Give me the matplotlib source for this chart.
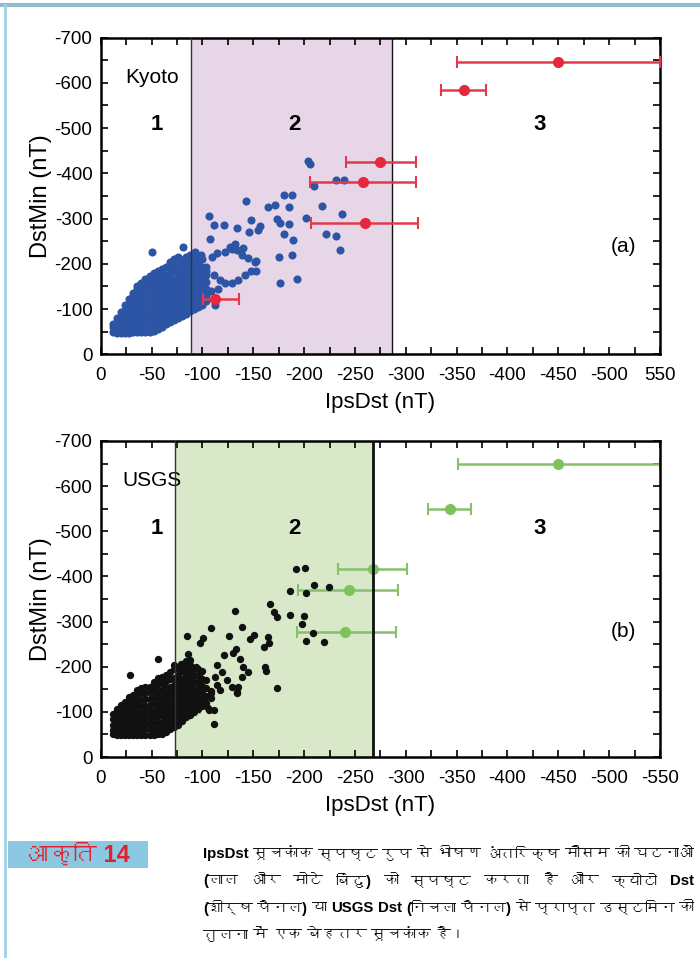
import numpy as np
import matplotlib
matplotlib.use("Agg")
import matplotlib.pyplot as plt
from matplotlib import font_manager
from matplotlib.ft2font import FT2Font
from matplotlib.lines import Line2D
from matplotlib.patches import Rectangle

# ==============
# 1. Data (nT, stored as magnitudes and plotted negative)
# ==============
# big storms with IpsDst range: panel (a) Kyoto, red
kyoto_big_ips = [450, 357, 275, 258, 260, 112]
kyoto_big_dst = [647, 585, 424, 380, 290, 122]
kyoto_big_lo = [350, 335, 241, 206, 207, 101]
kyoto_big_hi = [550, 379, 310, 310, 312, 136]

# panel (b) USGS, green
usgs_big_ips = [450, 343, 268, 244, 240, 88]
usgs_big_dst = [650, 549, 417, 371, 277, 108]
usgs_big_lo = [351, 322, 233, 194, 193, 80]
usgs_big_hi = [550, 364, 301, 292, 290, 98]

# dense cloud of ordinary storms, column by column: (IpsDst, [DstMin, ...])
kyoto_cloud = [
    (12, [50, 60, 68]),
    (16, [48, 58, 70, 80]),
    (20, [48, 58, 70, 82, 94]),
    (24, [48, 59, 71, 84, 97, 108]),
    (28, [48, 60, 72, 85, 98, 112, 122]),
    (32, [49, 61, 74, 87, 100, 114, 128, 136]),
    (36, [49, 62, 75, 88, 102, 116, 130, 144, 152]),
    (40, [49, 62, 76, 90, 104, 118, 132, 146, 158]),
    (44, [50, 63, 77, 91, 105, 120, 134, 148, 160, 166]),
    (48, [50, 64, 78, 92, 106, 121, 136, 150, 164, 172]),
    (52, [52, 65, 79, 93, 108, 123, 138, 152, 166, 180]),
    (56, [56, 68, 82, 96, 110, 125, 140, 155, 170, 184]),
    (60, [61, 72, 85, 99, 113, 128, 143, 158, 173, 188]),
    (64, [66, 77, 89, 102, 116, 131, 146, 161, 176, 192]),
    (68, [71, 82, 94, 106, 120, 134, 149, 164, 180, 196, 204]),
    (72, [76, 87, 99, 111, 124, 138, 152, 167, 183, 200, 210]),
    (76, [81, 92, 104, 116, 129, 142, 156, 171, 187, 203, 214]),
    (80, [85, 97, 109, 121, 134, 147, 161, 176, 192, 208]),
    (84, [90, 102, 114, 126, 139, 152, 166, 181, 197, 214]),
    (88, [95, 107, 119, 131, 144, 157, 171, 186, 202, 220]),
    (92, [100, 112, 124, 136, 149, 162, 176, 191, 207, 224]),
    (96, [104, 116, 129, 142, 155, 169, 184, 200, 216]),
    (100, [108, 121, 134, 148, 163, 178, 194, 210]),
    (104, [118, 130, 145, 160, 176, 192]),
]
kyoto_pts_ips = [204, 206, 210, 231, 239, 180, 188, 143, 164, 171, 185, 218,
                 106, 111, 121, 134, 148, 157, 155, 146, 173, 176, 185, 202,
                 237, 180, 189, 222, 231, 235, 107, 175, 188, 176, 193, 50,
                 81, 132, 140, 129, 153, 153, 112, 93, 99, 109, 114, 122,
                 127, 134, 139, 145, 152, 148, 142, 135, 129, 122, 117, 111,
                 104, 98, 93, 97, 108, 115]
kyoto_pts_dst = [428, 421, 373, 386, 386, 353, 353, 338, 326, 330, 326, 328,
                 306, 286, 286, 280, 297, 284, 274, 270, 300, 290, 288, 302,
                 310, 266, 253, 266, 262, 230, 255, 215, 219, 158, 167, 225,
                 238, 244, 235, 232, 207, 185, 110, 227, 220, 216, 223, 227,
                 238, 231, 220, 212, 205, 183, 176, 165, 157, 157, 165, 175,
                 183, 186, 179, 140, 140, 145]

usgs_cloud = [
    (12, [50, 60, 72, 84, 96]),
    (16, [49, 60, 72, 84, 96, 106]),
    (20, [48, 59, 71, 83, 95, 107, 115]),
    (24, [48, 59, 71, 83, 96, 109, 122]),
    (28, [48, 59, 71, 84, 97, 110, 123, 133]),
    (32, [48, 60, 72, 85, 98, 111, 124, 138]),
    (36, [48, 60, 72, 85, 98, 112, 126, 140, 148]),
    (40, [48, 60, 73, 86, 99, 113, 127, 141, 152]),
    (44, [48, 61, 74, 87, 100, 114, 128, 142, 154]),
    (48, [49, 62, 75, 88, 101, 115, 129, 143, 156]),
    (52, [49, 62, 75, 89, 103, 117, 131, 145, 158, 166]),
    (56, [50, 63, 76, 90, 104, 118, 132, 147, 161, 174]),
    (60, [52, 65, 78, 92, 106, 120, 134, 149, 164, 178]),
    (64, [56, 68, 81, 95, 109, 123, 138, 153, 168, 182]),
    (68, [61, 73, 86, 99, 112, 126, 141, 156, 172, 188]),
    (72, [66, 78, 90, 103, 116, 130, 145, 160, 176, 194, 204]),
    (76, [72, 84, 96, 109, 122, 136, 151, 166, 182, 198]),
    (80, [80, 92, 104, 117, 130, 144, 158, 173, 190, 206]),
    (84, [88, 100, 112, 124, 137, 151, 166, 182, 198, 212]),
    (88, [94, 106, 118, 130, 144, 158, 174, 190, 204]),
    (92, [100, 112, 124, 137, 151, 166, 182, 198]),
    (96, [106, 119, 133, 148, 163, 180, 196]),
    (100, [112, 126, 141, 157, 173, 190]),
    (104, [120, 136, 152, 170]),
    (108, [130, 146]),
]
usgs_pts_ips = [192, 201, 210, 224, 186, 202, 166, 170, 173, 186, 200, 198,
                132, 139, 147, 151, 164, 165, 161, 126, 108, 101, 98, 85,
                209, 202, 220, 133, 162, 163, 173, 121, 130, 137, 140, 139,
                135, 134, 129, 124, 119, 114, 112, 114, 117, 134, 94, 97,
                91, 86, 108, 105, 111, 88, 86, 79, 29, 56, 15, 145, 111, 106]
usgs_pts_dst = [417, 419, 382, 376, 368, 364, 340, 321, 310, 315, 312, 294,
                323, 287, 262, 271, 265, 252, 243, 269, 285, 263, 253, 268,
                274, 257, 255, 240, 200, 191, 152, 226, 230, 218, 200, 178,
                156, 141, 156, 171, 189, 204, 178, 159, 148, 145, 200, 182,
                163, 185, 141, 108, 74, 215, 229, 207, 182, 216, 97, 188, 104, 104]

# boundaries of the shaded region 2
kyoto_zone = [89, 286]
usgs_zone = [73, 268]

x_ticks = [0, 50, 100, 150, 200, 250, 300, 350, 400, 450, 500, 550]
x_labels_a = ["0", "-50", "-100", "-150", "-200", "-250", "-300", "-350",
              "-400", "-450", "-500", "550"]
x_labels_b = ["0", "-50", "-100", "-150", "-200", "-250", "-300", "-350",
              "-400", "-450", "-500", "-550"]
y_ticks = [0, 100, 200, 300, 400, 500, 600, 700]
y_labels = ["0", "-100", "-200", "-300", "-400", "-500", "-600", "-700"]

caption_tag = "आकृति 14"
caption_lines = [
    "IpsDst सूचकांक स्पष्ट रुप से भीषण अंतरिक्ष मौसम की घटनाओं",
    "(लाल और मोटे बिंदु) को स्पष्ट करता है और क्योटो Dst",
    "(शीर्ष पैनल) या USGS Dst (निचला पैनल) से प्राप्त डस्टमिन की",
    "तुलना में एक बेहतर सूचकांक है।",
]

# ==============
# 2. Fonts
# ==============
plt.rcParams['font.family'] = ['Liberation Sans', 'DejaVu Sans']
plt.rcParams['axes.unicode_minus'] = False

deva_font = None
for f in font_manager.fontManager.ttflist:
    try:
        if ord('क') in FT2Font(f.fname).get_charmap():
            deva_font = f.name
            break
    except Exception:
        pass
caption_family = ['Liberation Sans', 'DejaVu Sans']
if deva_font:
    caption_family = ['Liberation Sans', deva_font, 'DejaVu Sans']


def neg(v):
    return -np.asarray(v, dtype=float)


def expand(cloud):
    xs, ys = [], []
    for x, col in cloud:
        xs += [x] * len(col)
        ys += col
    return xs, ys


def panel(ax, cloud, pts_x, pts_y, dot_color, dot_size, zone, shade, zone_lw,
          big, big_color, bar_color, big_z, name, tag, xlabels):
    ax.axvspan(-zone[0], -zone[1], color=shade, lw=0, zorder=0)
    cx, cy = expand(cloud)
    ax.scatter(neg(cx), neg(cy), s=dot_size, color=dot_color, lw=0, zorder=3)
    ax.scatter(neg(pts_x), neg(pts_y), s=dot_size, color=dot_color, lw=0, zorder=3)
    ax.axvline(-zone[0], color='#333333', lw=zone_lw[0], zorder=4)
    ax.axvline(-zone[1], color='#111111', lw=zone_lw[1], zorder=4)

    ips, dst, lo, hi = (np.asarray(v, dtype=float) for v in big)
    xerr = [hi - ips, ips - lo]
    ax.errorbar(-ips, -dst, xerr=xerr, fmt='o', color=big_color, ecolor=bar_color,
                ms=7, elinewidth=1.8, capsize=4.5, capthick=1.5, zorder=big_z)

    ax.set_xlim(0, -550)
    ax.set_ylim(0, -700)
    ax.set_xticks(neg(x_ticks))
    ax.set_xticklabels(xlabels)
    ax.set_xticks(np.arange(-25, -550, -50), minor=True)
    ax.set_yticks(neg(y_ticks))
    ax.set_yticklabels(y_labels)
    ax.set_yticks(np.arange(-50, -700, -100), minor=True)
    ax.tick_params(which='both', direction='in', top=True, right=True,
                   length=5, width=1.2, labelsize=13.5)
    ax.tick_params(axis='x', pad=9)
    ax.tick_params(axis='y', pad=6)
    for s in ax.spines.values():
        s.set_linewidth(1.8)

    ax.set_xlabel("IpsDst (nT)", fontsize=16, labelpad=6)
    ax.set_ylabel("DstMin (nT)", fontsize=17, labelpad=2)

    ax.text(-50, -612, name, fontsize=15, ha='center', va='center')
    ax.text(-55, -507, "1", fontsize=16, fontweight='bold', ha='center', va='center')
    ax.text(-190, -507, "2", fontsize=16, fontweight='bold', ha='center', va='center')
    ax.text(-432, -507, "3", fontsize=16, fontweight='bold', ha='center', va='center')
    ax.text(-514, tag[1], tag[0], fontsize=15, ha='center', va='center')


# ==============
# 3. Figure
# ==============
fig = plt.figure(figsize=(7, 9.58), dpi=100)

ax_a = fig.add_axes([0.1439, 0.6302, 0.799, 0.3305])
panel(ax_a, kyoto_cloud, kyoto_pts_ips, kyoto_pts_dst, '#2d55a5', 34,
      kyoto_zone, '#e6d6e8', (1.0, 1.0),
      (kyoto_big_ips, kyoto_big_dst, kyoto_big_lo, kyoto_big_hi),
      '#e6283c', '#e23a4c', 5, "Kyoto", ("(a)", -238), x_labels_a)

ax_b = fig.add_axes([0.1439, 0.2098, 0.799, 0.3299])
panel(ax_b, usgs_cloud, usgs_pts_ips, usgs_pts_dst, '#111111', 28,
      usgs_zone, '#d9e8c8', (1.0, 2.0),
      (usgs_big_ips, usgs_big_dst, usgs_big_lo, usgs_big_hi),
      '#7dc35a', '#86c06a', 2.5, "USGS", ("(b)", -278), x_labels_b)

# page frame lines
fig.add_artist(Line2D([0, 1], [0.995, 0.995], color='#93bccb', lw=3))
fig.add_artist(Line2D([0.007, 0.007], [0, 0.995], color='#9fd0e6', lw=2))

# caption box and text
fig.add_artist(Rectangle((0.011, 0.094), 0.2, 0.028, color='#8dc8e3', lw=0))
fig.text(0.111, 0.108, caption_tag, color='#e4202e', fontsize=17,
         fontweight='bold', ha='center', va='center', family=caption_family)

# justified paragraph: words spread across the column, last line left
left_px, right_px = 203, 694
renderer = fig.canvas.get_renderer()
size = 13.0
rows = []
for i, line in enumerate(caption_lines):
    y = 0.109 - i * 0.0282
    rows.append([fig.text(0, y, w, fontsize=size, fontweight='bold', ha='left',
                          va='center', family=caption_family)
                 for w in line.split(' ')])

# shrink the font until the longest line fits with a normal word gap
need = 0
for texts in rows:
    widths = [t.get_window_extent(renderer).width for t in texts]
    need = max(need, sum(widths) + 0.3 * size * 1.39 * (len(texts) - 1))
scale = min(1.0, (right_px - left_px) / need)
for texts in rows:
    for t in texts:
        t.set_fontsize(size * scale)

for i, texts in enumerate(rows):
    widths = [t.get_window_extent(renderer).width for t in texts]
    space = 0.3 * size * scale * 1.39
    if i < len(rows) - 1 and len(texts) > 1:
        space = (right_px - left_px - sum(widths)) / (len(texts) - 1)
    x = left_px
    for t, w in zip(texts, widths):
        t.set_x(x / 700)
        x += w + space

plt.savefig("out.png", dpi=100)
